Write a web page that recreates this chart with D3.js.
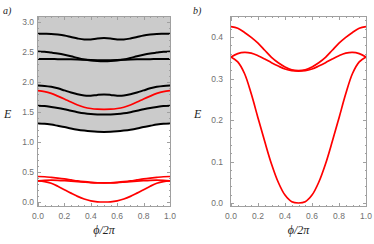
<!DOCTYPE html>
<html>
<head>
<meta charset="utf-8">
<script src="https://cdn.jsdelivr.net/npm/d3@7"></script>
<style>
  body { margin: 0; background: #fff; }
  svg { display: block; }
  .tick-label { font-family: "Liberation Sans", Arial, sans-serif; font-size: 8.5px; fill: #707070; }
  .ax-label { font-family: "Liberation Serif", "Times New Roman", serif; font-style: italic; fill: #222; }
</style>
</head>
<body>
<svg id="chart" width="374" height="244"></svg>
<script>
// phi / 2pi samples
var phi = [0, 0.05, 0.1, 0.15, 0.2, 0.25, 0.3, 0.35, 0.4, 0.45, 0.5,
           0.55, 0.6, 0.65, 0.7, 0.75, 0.8, 0.85, 0.9, 0.95, 1];

// low red bands (both panels)
var redUpper = [0.425, 0.421, 0.411, 0.399, 0.385, 0.368, 0.351, 0.338, 0.328, 0.321, 0.319,
                0.321, 0.328, 0.338, 0.351, 0.368, 0.385, 0.399, 0.411, 0.421, 0.425];
var redMiddle = [0.352, 0.360, 0.363, 0.361, 0.355, 0.347, 0.338, 0.330, 0.323, 0.319, 0.318,
                 0.319, 0.323, 0.330, 0.338, 0.347, 0.355, 0.361, 0.363, 0.360, 0.352];
var redLower = [0.352, 0.340, 0.312, 0.263, 0.205, 0.148, 0.094, 0.050, 0.019, 0.003, 0.000,
                0.003, 0.019, 0.050, 0.094, 0.148, 0.205, 0.263, 0.312, 0.340, 0.352];

// higher bands in panel a
var band1 = [2.805, 2.803, 2.800, 2.790, 2.775, 2.750, 2.725, 2.708, 2.710, 2.725, 2.732,
             2.725, 2.710, 2.708, 2.725, 2.750, 2.775, 2.790, 2.800, 2.803, 2.805];
var band2 = [2.510, 2.505, 2.490, 2.475, 2.455, 2.430, 2.400, 2.375, 2.358, 2.348, 2.345,
             2.348, 2.358, 2.375, 2.400, 2.430, 2.455, 2.475, 2.490, 2.505, 2.510];
var band3 = [2.383, 2.383, 2.382, 2.381, 2.380, 2.378, 2.375, 2.371, 2.367, 2.364, 2.362,
             2.364, 2.367, 2.371, 2.375, 2.378, 2.380, 2.381, 2.382, 2.383, 2.383];
var band4 = [1.940, 1.935, 1.920, 1.895, 1.860, 1.825, 1.795, 1.775, 1.772, 1.785, 1.792,
             1.785, 1.772, 1.775, 1.795, 1.825, 1.860, 1.895, 1.920, 1.935, 1.940];
var bandRed = [1.855, 1.840, 1.810, 1.765, 1.717, 1.665, 1.617, 1.580, 1.558, 1.547, 1.545,
               1.547, 1.558, 1.580, 1.617, 1.665, 1.717, 1.765, 1.810, 1.840, 1.855];
var band6 = [1.605, 1.600, 1.585, 1.567, 1.545, 1.520, 1.497, 1.478, 1.466, 1.460, 1.458,
             1.460, 1.466, 1.478, 1.497, 1.520, 1.545, 1.567, 1.585, 1.600, 1.605];
var band7 = [1.310, 1.305, 1.290, 1.270, 1.250, 1.225, 1.205, 1.190, 1.178, 1.170, 1.168,
             1.170, 1.178, 1.190, 1.205, 1.225, 1.250, 1.270, 1.290, 1.305, 1.310];

var xTicks = [0, 0.2, 0.4, 0.6, 0.8, 1.0];
var yTicksA = [0, 0.5, 1.0, 1.5, 2.0, 2.5, 3.0];
var yTicksB = [0, 0.1, 0.2, 0.3, 0.4];

var svg = d3.select("#chart");
var frameCol = "#a0a0a0";

function pts(ys) {
    return phi.map(function(p, i) { return [p, ys[i]]; });
}

function drawPanel(o) {
    var x = d3.scaleLinear().domain([0, 1]).range([o.x0, o.x1]);
    var y = d3.scaleLinear().domain(o.ydom).range([o.yb, o.yt]);
    var fl = o.x0 - 1, fr = o.x1 + 1, ft = o.ft, fb = o.fb;

    var g = svg.append("g");
    var clipId = "clip" + o.name;
    svg.append("defs").append("clipPath").attr("id", clipId)
        .append("rect").attr("x", fl).attr("y", ft).attr("width", fr - fl).attr("height", fb - ft);

    var plot = g.append("g").attr("clip-path", "url(#" + clipId + ")");

    // continuum shading
    if (o.fillFrom) {
        var area = d3.area()
            .x(function(d) { return x(d[0]); })
            .y0(function(d) { return y(d[1]); })
            .y1(ft)
            .curve(d3.curveCatmullRom);
        plot.append("path").datum(pts(o.fillFrom))
            .attr("d", area).attr("fill", "#cbcbcb");
    }

    var line = d3.line()
        .x(function(d) { return x(d[0]); })
        .y(function(d) { return y(d[1]); })
        .curve(d3.curveCatmullRom);

    o.curves.forEach(function(c) {
        plot.append("path").datum(pts(c.ys))
            .attr("d", line)
            .attr("fill", "none")
            .attr("stroke", c.color)
            .attr("stroke-width", c.color === "#000" ? 2 : 1.7)
            .attr("stroke-linejoin", "round");
    });

    // frame
    g.append("rect").attr("x", fl + 0.5).attr("y", ft + 0.5)
        .attr("width", fr - fl - 1).attr("height", fb - ft - 1)
        .attr("fill", "none").attr("stroke", frameCol).attr("stroke-width", 1);

    // ticks on all sides, pointing inward
    var tg = g.append("g").attr("stroke", frameCol).attr("stroke-width", 1);
    d3.range(0, 1.0001, 0.05).forEach(function(v) {
        var major = Math.abs(v * 5 - Math.round(v * 5)) < 1e-6;
        var len = major ? 4 : 2;
        var px = Math.round(x(v)) + 0.5;
        tg.append("line").attr("x1", px).attr("x2", px).attr("y1", fb).attr("y2", fb - len);
        tg.append("line").attr("x1", px).attr("x2", px).attr("y1", ft).attr("y2", ft + len);
    });
    d3.range(o.minor[0], o.minor[1] + 1e-6, o.minor[2]).forEach(function(v) {
        var major = Math.abs(v / o.major - Math.round(v / o.major)) < 1e-6;
        var len = major ? 4 : 2;
        var py = Math.round(y(v)) + 0.5;
        if (py < ft || py > fb) return;
        tg.append("line").attr("y1", py).attr("y2", py).attr("x1", fl).attr("x2", fl + len);
        tg.append("line").attr("y1", py).attr("y2", py).attr("x1", fr).attr("x2", fr - len);
    });

    // tick labels
    xTicks.forEach(function(v) {
        g.append("text").attr("class", "tick-label")
            .attr("x", x(v)).attr("y", fb + 12)
            .attr("text-anchor", "middle").text(v.toFixed(1));
    });
    o.yTicks.forEach(function(v) {
        g.append("text").attr("class", "tick-label")
            .attr("x", o.ylabX).attr("y", y(v) + 3)
            .attr("text-anchor", "end").text(v.toFixed(1));
    });

    // axis labels and panel tag
    g.append("text").attr("class", "ax-label").attr("font-size", 12)
        .attr("x", o.eX).attr("y", 118).text("E");
    g.append("text").attr("class", "ax-label").attr("font-size", 12)
        .attr("x", (o.x0 + o.x1) / 2).attr("y", 234)
        .attr("text-anchor", "middle").text("\u03d5/2\u03c0");
    g.append("text").attr("class", "ax-label").attr("font-size", 10)
        .attr("x", o.tagX).attr("y", 14).text(o.name + ")");
}

drawPanel({
    name: "a", x0: 38, x1: 170, ydom: [0, 3], yb: 202, yt: 22, ft: 16, fb: 207,
    yTicks: yTicksA, major: 0.5, minor: [-0.1, 3.1, 0.1], ylabX: 34, eX: 4, tagX: 3,
    fillFrom: band7,
    curves: [
        { ys: band1, color: "#000" }, { ys: band2, color: "#000" }, { ys: band3, color: "#000" },
        { ys: band4, color: "#000" }, { ys: band6, color: "#000" }, { ys: band7, color: "#000" },
        { ys: bandRed, color: "#f00" },
        { ys: redUpper, color: "#f00" }, { ys: redMiddle, color: "#f00" }, { ys: redLower, color: "#f00" }
    ]
});

drawPanel({
    name: "b", x0: 231, x1: 366, ydom: [0, 0.4], yb: 203, yt: 37, ft: 16, fb: 207,
    yTicks: yTicksB, major: 0.1, minor: [0, 0.44, 0.02], ylabX: 223, eX: 194, tagX: 193,
    curves: [
        { ys: redUpper, color: "#f00" }, { ys: redMiddle, color: "#f00" }, { ys: redLower, color: "#f00" }
    ]
});
</script>
</body>
</html>
